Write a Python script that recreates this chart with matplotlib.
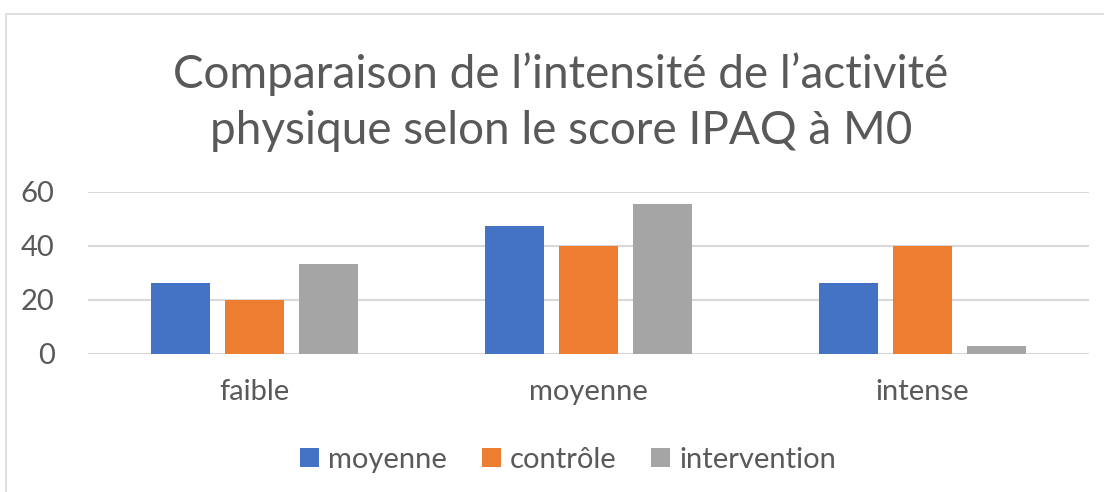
import numpy as np
import matplotlib
matplotlib.use("Agg")
import matplotlib.pyplot as plt
from matplotlib.patches import Rectangle

plt.rcParams['font.family'] = ['Lato', 'DejaVu Sans']

#===================================================
# Data
categories = ['faible', 'moyenne', 'intense']
series_names = ['moyenne', 'contrôle', 'intervention']
moyenne = [26.3, 47.4, 26.3]
controle = [20.0, 40.0, 40.0]
intervention = [33.3, 55.6, 2.8]
yticks = [0, 20, 40, 60]
colors = ['#4472c4', '#ed7d31', '#a5a5a5']

W, H = 1104, 492
fig = plt.figure(figsize=(W / 100, H / 100), dpi=100)

# chart frame (cut by the image edge on right and bottom)
fig.patches.append(Rectangle((6 / W, -0.1), 1.2, (H - 14) / H + 0.1,
                             transform=fig.transFigure, fill=False,
                             edgecolor='#d9d9d9', lw=1.2))

ax = fig.add_axes([88 / W, (H - 354) / H, (1089 - 88) / W, 162 / H])

x = np.arange(len(categories))
bw = 0.177
step = 0.222
for i, (vals, name) in enumerate(zip([moyenne, controle, intervention], series_names)):
    ax.bar(x + (i - 1) * step, vals, width=bw, color=colors[i], label=name, zorder=3)

ax.set_xlim(-0.5, 2.5)
ax.set_ylim(0, 60)
ax.set_yticks(yticks)
ax.set_xticks(x)
ax.set_xticklabels(categories)
ax.grid(axis='y', color='#d9d9d9', lw=1.5, zorder=0)
for s in ax.spines.values():
    s.set_visible(False)
ax.tick_params(axis='both', length=0, labelsize=21, colors='#595959')
ax.tick_params(axis='y', pad=24)
ax.tick_params(axis='x', pad=18)

fig.text(561 / W, 1 - 102 / H, "Comparaison de l\u2019intensit\u00e9 de l\u2019activit\u00e9\nphysique selon le score IPAQ \u00e0 M0",
         ha='center', va='center', fontsize=33, color='#595959', linespacing=1.4)

leg = ax.legend(loc='center', bbox_to_anchor=(568 / W, 1 - 460 / H), bbox_transform=fig.transFigure,
                ncol=3, frameon=False, fontsize=21, handlelength=0.65, handleheight=0.65,
                handletextpad=0.3, columnspacing=1.2)
for t in leg.get_texts():
    t.set_color('#595959')

plt.savefig('out.png', dpi=100)
